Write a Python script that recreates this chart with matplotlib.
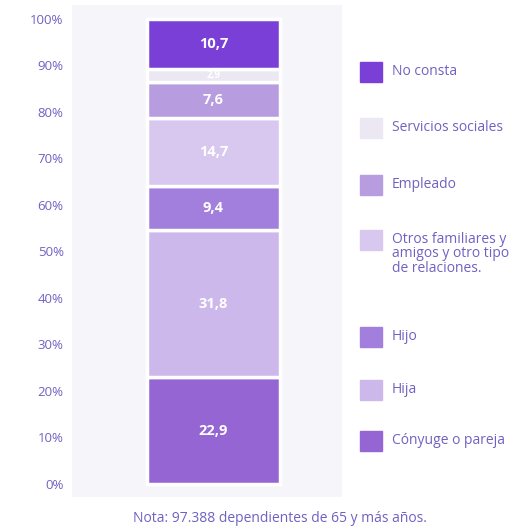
import matplotlib.pyplot as plt
from matplotlib.patches import Rectangle

plt.rcParams['font.family'] = ['Open Sans', 'DejaVu Sans']

# datos (de abajo arriba)
categorias = ["Cónyuge o pareja", "Hija", "Hijo",
              "Otros familiares y\namigos y otro tipo\nde relaciones.",
              "Empleado", "Servicios sociales", "No consta"]
valores = [22.9, 31.8, 9.4, 14.7, 7.6, 2.9, 10.7]
colores = ["#9565d3", "#cdb8ec", "#a27fdc", "#d8c8f0", "#b79ce0", "#ebe7f3", "#7a3fd6"]
ticks = [0, 10, 20, 30, 40, 50, 60, 70, 80, 90, 100]
nota = "Nota: 97.388 dependientes de 65 y más años."

txt_color = "#6f62c2"

fig = plt.figure(figsize=(5.23, 5.31), dpi=100)
ax = fig.add_axes([72 / 523, 1 - 497 / 531, 270 / 523, 492 / 531])
ax.set_facecolor("#f6f5fa")
ax.set_xlim(0, 1)
ax.set_ylim(-2.8, 103)

base = 0
for v, c in zip(valores, colores):
    ax.bar(0.524, v, width=0.493, bottom=base, color=c, edgecolor="white", linewidth=2.5)
    ax.text(0.524, base + v / 2, f"{v:.1f}".replace(".", ","), ha="center", va="center",
            color="white", fontsize=10.5 if v > 5 else 7, fontweight="bold")
    base += v

ax.set_yticks(ticks)
ax.set_yticklabels([f"{t}%" for t in ticks], color=txt_color, fontsize=9.5)
ax.set_xticks([])
ax.tick_params(axis="y", length=0, pad=6)
for s in ax.spines.values():
    s.set_visible(False)

# leyenda manual (de arriba abajo)
ley_y = [72, 128, 185, 240, 337, 390, 441]
orden = list(range(len(categorias)))[::-1]
for y, i in zip(ley_y, orden):
    fig.patches.append(Rectangle((360 / 523, 1 - (y + 10) / 531), 22 / 523, 20 / 531,
                                 transform=fig.transFigure, color=colores[i]))
    fig.text(392 / 523, 1 - (y - 8) / 531, categorias[i], ha="left", va="top",
             color=txt_color, fontsize=10, linespacing=0.95)

fig.text(0.535, 1 - 518 / 531, nota, ha="center", va="center", color=txt_color, fontsize=10)

fig.savefig("out.png", dpi=100, facecolor="white")
